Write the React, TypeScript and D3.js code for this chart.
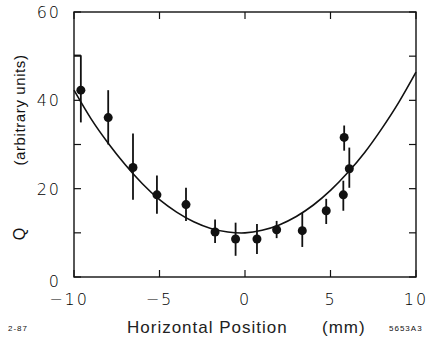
import { useEffect, useRef } from 'react'
import * as d3 from 'd3'

// measured points (mm, Q) with error bar low / high
const posX = [-9.6, -8.0, -6.55, -5.15, -3.45, -1.75, -0.55, 0.7, 1.85, 3.35, 4.75, 5.75, 5.8, 6.1]
const valQ = [42.3, 36.1, 24.8, 18.6, 16.4, 10.2, 8.6, 8.6, 10.7, 10.5, 15.0, 18.6, 31.6, 24.5]
const errLo = [35.0, 30.0, 17.5, 14.3, 12.7, 7.7, 4.8, 5.2, 8.8, 6.8, 12.0, 15.0, 28.6, 20.2]
const errHi = [50.2, 42.3, 32.5, 23.0, 20.2, 13.0, 12.3, 12.0, 12.7, 14.5, 17.7, 21.8, 34.3, 29.3]

// fitted curve
const fitX = [-10, -9, -8, -7, -6, -5, -4, -3, -2, -1, 0, 1, 2, 3, 4, 5, 6, 7, 8, 9, 10]
const fitY = [42.3, 35.8, 30.3, 25.4, 21.1, 17.5, 14.7, 12.5, 11.0, 10.2, 10.0, 10.6, 11.8, 13.7, 16.3, 19.6, 23.6, 28.2, 33.6, 39.6, 46.4]

const xTicks = [-10, -5, 0, 5, 10]
const yTicks = [0, 10, 20, 30, 40, 50, 60]
const yLabels = [0, 20, 40, 60]

const W = 427
const H = 343
const margin = { top: 12, right: 11, bottom: 66, left: 74 }

export default function App() {
  const svgRef = useRef<SVGSVGElement>(null)

  useEffect(() => {
    if (!svgRef.current) return
    const svg = d3.select(svgRef.current)
    svg.selectAll('*').remove()

    const innerW = W - margin.left - margin.right
    const innerH = H - margin.top - margin.bottom

    const x = d3.scaleLinear().domain([-10, 10]).range([0, innerW])
    const y = d3.scaleLinear().domain([0, 60]).range([innerH, 0])

    const g = svg.append('g').attr('transform', `translate(${margin.left},${margin.top})`)
    const font = 'Liberation Sans, Arial, sans-serif'
    const tickFont = 'DejaVu Sans, sans-serif'

    // frame
    g.append('rect')
      .attr('width', innerW).attr('height', innerH)
      .attr('fill', 'none').attr('stroke', '#111').attr('stroke-width', 1.4)

    // inward ticks, all four sides
    const tl = 7
    xTicks.forEach(t => {
      g.append('line').attr('x1', x(t)).attr('x2', x(t)).attr('y1', innerH).attr('y2', innerH - tl)
        .attr('stroke', '#111').attr('stroke-width', 1.2)
      g.append('line').attr('x1', x(t)).attr('x2', x(t)).attr('y1', 0).attr('y2', tl)
        .attr('stroke', '#111').attr('stroke-width', 1.2)
    })
    yTicks.forEach(t => {
      g.append('line').attr('x1', 0).attr('x2', tl).attr('y1', y(t)).attr('y2', y(t))
        .attr('stroke', '#111').attr('stroke-width', 1.2)
      g.append('line').attr('x1', innerW).attr('x2', innerW - tl).attr('y1', y(t)).attr('y2', y(t))
        .attr('stroke', '#111').attr('stroke-width', 1.2)
    })

    // tick labels
    g.selectAll('.xl').data(xTicks).enter().append('text')
      .attr('x', d => x(d) + (d === -10 ? -5 : 0))
      .attr('y', innerH + 28)
      .attr('text-anchor', 'middle')
      .attr('font-family', tickFont).attr('font-weight', 300).attr('font-size', 16)
      .attr('letter-spacing', 2).attr('fill', '#000')
      .text(d => (d < 0 ? '\u2212' + Math.abs(d) : String(d)))

    g.selectAll('.yl').data(yLabels).enter().append('text')
      .attr('x', -13)
      .attr('y', d => y(d) + (d === 0 ? 10 : 6))
      .attr('text-anchor', 'end')
      .attr('font-family', tickFont).attr('font-weight', 300).attr('font-size', 16)
      .attr('letter-spacing', 2).attr('fill', '#000')
      .text(d => String(d))

    // fit curve
    const line = d3.line<number>()
      .x((_, i) => x(fitX[i]))
      .y(d => y(d))
      .curve(d3.curveNatural)
    g.append('path').datum(fitY)
      .attr('d', line)
      .attr('fill', 'none').attr('stroke', '#111').attr('stroke-width', 1.6)

    // error bars
    posX.forEach((px, i) => {
      g.append('line')
        .attr('x1', x(px)).attr('x2', x(px))
        .attr('y1', y(errLo[i])).attr('y2', y(errHi[i]))
        .attr('stroke', '#111').attr('stroke-width', 1.8)
    })
    // bracket on the first bar
    g.append('line')
      .attr('x1', 0).attr('x2', x(posX[0]))
      .attr('y1', y(errHi[0])).attr('y2', y(errHi[0]))
      .attr('stroke', '#111').attr('stroke-width', 1.4)

    // points
    g.selectAll('.pt').data(valQ).enter().append('circle')
      .attr('cx', (_, i) => x(posX[i]))
      .attr('cy', d => y(d))
      .attr('r', 4.5)
      .attr('fill', '#111')

    // axis titles
    svg.append('text')
      .attr('transform', 'translate(25,110) rotate(-90)')
      .attr('text-anchor', 'middle')
      .attr('font-family', font).attr('font-size', 15).attr('fill', '#111')
      .attr('letter-spacing', 0.6)
      .text('(arbitrary units)')

    svg.append('text')
      .attr('transform', 'translate(25,234) rotate(-90)')
      .attr('text-anchor', 'middle')
      .attr('font-family', font).attr('font-size', 16).attr('fill', '#111')
      .text('Q')

    svg.append('text')
      .attr('x', 127).attr('y', 333)
      .attr('font-family', font).attr('font-size', 17).attr('fill', '#222')
      .attr('letter-spacing', 1)
      .text('Horizontal Position')

    svg.append('text')
      .attr('x', 322).attr('y', 333)
      .attr('font-family', font).attr('font-size', 17).attr('fill', '#222')
      .attr('letter-spacing', 1)
      .text('(mm)')

    svg.append('text')
      .attr('x', 8).attr('y', 331)
      .attr('font-family', font).attr('font-size', 8).attr('fill', '#111')
      .attr('letter-spacing', 1)
      .text('2-87')

    svg.append('text')
      .attr('x', 389).attr('y', 331)
      .attr('font-family', font).attr('font-size', 8).attr('fill', '#111')
      .attr('letter-spacing', 1)
      .text('5653A3')
  }, [])

  return (
    <svg ref={svgRef} width={W} height={H}
      style={{ position: 'absolute', left: 0, top: 0, background: '#fff' }} />
  )
}
